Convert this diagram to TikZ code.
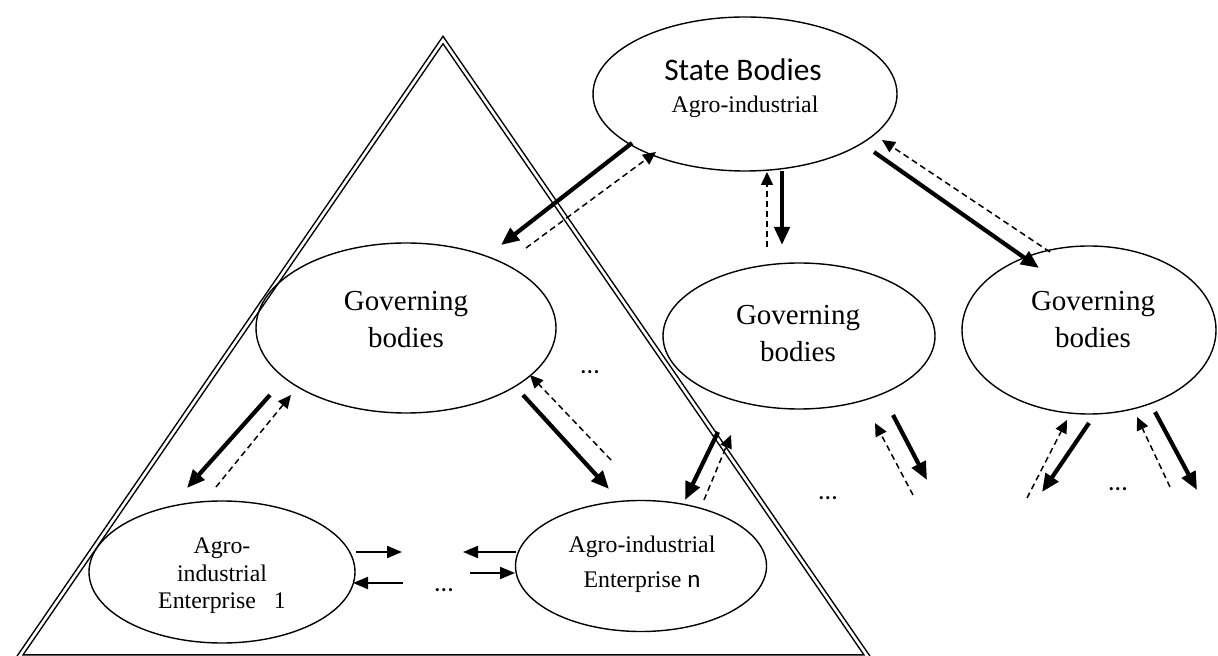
\documentclass[tikz,border=0pt]{standalone}
\usepackage{fontspec}
\setmainfont{Liberation Serif}
\newfontfamily\calfont{Carlito}
\usetikzlibrary{arrows.meta,shapes.geometric}

\begin{document}
\begin{tikzpicture}[x=0.5pt,y=-0.5pt,
  oval/.style={draw, ellipse, line width=0.7pt, inner sep=0pt},
  frame/.style={double, line width=0.75pt, double distance=1.3pt, line join=miter},
  govarrow/.style={line width=2.1pt, -{Triangle[length=9pt,width=7.5pt]}},
  feedarrow/.style={line width=0.75pt, dash pattern=on 3pt off 2pt, -{Triangle[length=6.5pt,width=6pt]}},
  peerarrow/.style={line width=1pt, -{Triangle[length=7.5pt,width=6pt]}},
  txt/.style={align=center, inner sep=0pt},
  gov/.style={txt, font=\fontsize{14.5}{18.5}\selectfont},
  ent/.style={txt, font=\fontsize{11.9}{13.75}\selectfont},
  dots/.style={inner sep=0pt, anchor=base, font=\calfont\fontsize{13}{15}\selectfont}]

\useasboundingbox (0,0) rectangle (1218,656);

% the double-lined triangle around one branch
\draw[frame] (443,40) -- (868,657) -- (19,657) -- cycle;

% bodies and enterprises
\node[oval, minimum width=152pt, minimum height=77pt] (state) at (745,94) {};
\node[oval, minimum width=150pt, minimum height=85pt] (govL) at (406,328) {};
\node[oval, minimum width=136pt, minimum height=73pt] (govM) at (799,336) {};
\node[oval, minimum width=127pt, minimum height=84pt] (govR) at (1089,330) {};
\node[oval, minimum width=133pt, minimum height=71pt] (ent1) at (222,572) {};
\node[oval, minimum width=125.5pt, minimum height=65.5pt] (entN) at (641,566) {};

% texts
\node[txt, font=\calfont\fontsize{15.7}{19}\selectfont] (stateT) at (743,70) {State Bodies};
\node[ent] (stateS) at (745,107) {Agro-industrial};
\node[gov] (govLT) at (406,320) {Governing\\bodies};
\node[gov] (govMT) at (798,334) {Governing\\bodies};
\node[gov] (govRT) at (1093,320) {Governing\\bodies};
\node[ent] (ent1T) at (222,576) {Agro-\\industrial\\Enterprise\ \ \ 1};
\node[txt, font=\fontsize{11.9}{17.5}\selectfont] (entNT) at (642,564) {Agro-industrial\\Enterprise {\calfont\fontsize{12.5}{17.5}\selectfont n}};

% ellipses of omitted items
\node[dots] (dotsA) at (590,374) {...};
\node[dots] (dotsB) at (828,500) {...};
\node[dots] (dotsC) at (1118,490) {...};
\node[dots] (dotsD) at (444,591) {...};

% arrow ends
\coordinate (a1s) at (632,143); \coordinate (a1e) at (501,245);
\coordinate (b1s) at (526,248); \coordinate (b1e) at (656,152);
\coordinate (a2s) at (782,171); \coordinate (a2e) at (782,245);
\coordinate (b2s) at (767,247); \coordinate (b2e) at (767,172);
\coordinate (a3s) at (874,152); \coordinate (a3e) at (1039,268);
\coordinate (b3s) at (1050,252); \coordinate (b3e) at (882,140);

\coordinate (a4s) at (270,395); \coordinate (a4e) at (187,488);
\coordinate (b4s) at (216,487); \coordinate (b4e) at (291,395);
\coordinate (a5s) at (523,395); \coordinate (a5e) at (609,489);
\coordinate (b5s) at (611,460); \coordinate (b5e) at (530,375);
\coordinate (a6s) at (718,432); \coordinate (a6e) at (685,500);
\coordinate (b6s) at (704,500); \coordinate (b6e) at (731,435);

\coordinate (a7s) at (893,415); \coordinate (a7e) at (927,480);
\coordinate (b7s) at (913,495); \coordinate (b7e) at (875,423);
\coordinate (a8s) at (1089,423); \coordinate (a8e) at (1042,492);
\coordinate (b8s) at (1027,498); \coordinate (b8e) at (1067,420);
\coordinate (a9s) at (1155,412); \coordinate (a9e) at (1197,490);
\coordinate (b9s) at (1170,487); \coordinate (b9e) at (1137,417);

\coordinate (p1s) at (356,552); \coordinate (p1e) at (402,552);
\coordinate (p2s) at (403,583); \coordinate (p2e) at (353,583);
\coordinate (p3s) at (516,552); \coordinate (p3e) at (463,552);
\coordinate (p4s) at (470,573); \coordinate (p4e) at (515,573);

% downward control (solid) and upward reporting (dashed)
\foreach \k in {1,...,9} {
  \draw[govarrow] (a\k s) -- (a\k e);
  \draw[feedarrow] (b\k s) -- (b\k e);
}
% links between enterprises
\foreach \k in {1,...,4} {
  \draw[peerarrow] (p\k s) -- (p\k e);
}
\end{tikzpicture}
\end{document}
